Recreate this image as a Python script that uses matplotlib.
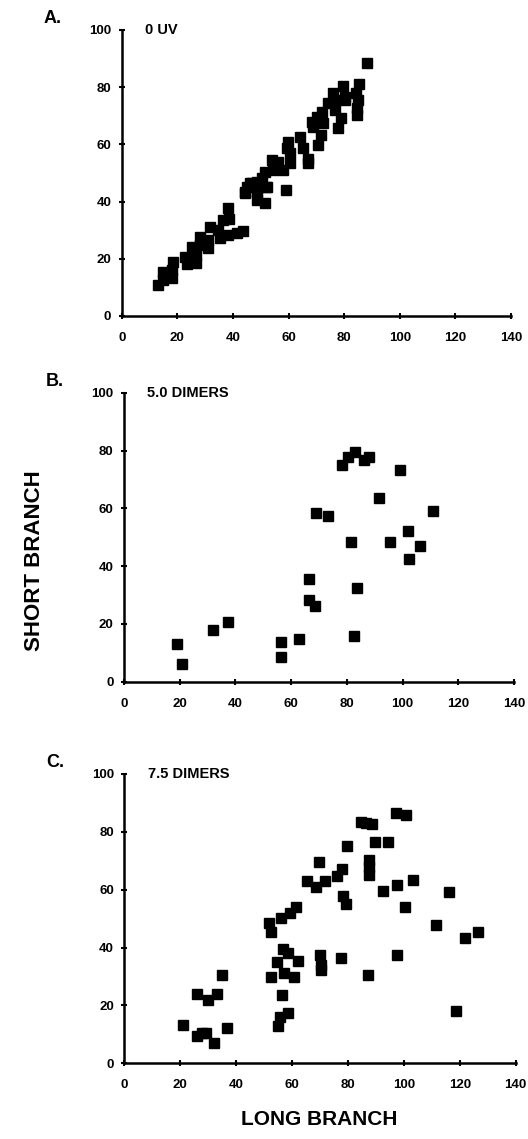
import matplotlib.pyplot as plt

plt.rcParams['font.family'] = ['Liberation Sans', 'DejaVu Sans']
plt.rcParams['font.weight'] = 'bold'

# Panel A: 0 UV
a_long = [88.1, 79.7, 85.5, 84.3, 85.1, 84.5, 84.5, 80.3, 80.3, 76.1, 76.7, 74.3, 76.7,
          78.9, 77.9, 71.9, 70.4, 68.3, 68.9, 72.5, 71.6, 70.7, 64.1, 65.3, 59.9, 59.4,
          60.5, 67.1, 67.1, 54.0, 56.3, 54.5, 58.1, 60.5, 51.5, 50.4, 48.6, 46.8, 45.0,
          48.6, 51.9, 59.1, 44.4, 51.5, 48.6, 48.6, 46.1, 44.4, 52.2, 38.3, 36.5, 38.7,
          31.8, 34.8, 38.3, 35.4, 41.4, 43.7, 28.2, 31.2, 28.2, 31.2, 25.2, 22.8, 26.7,
          26.7, 23.4, 18.6, 18.0, 15.0, 15.0, 18.0, 13.2]
a_short = [88.4, 80.4, 81.0, 77.9, 75.5, 72.6, 70.3, 76.7, 75.5, 77.9, 75.5, 74.4, 72.0,
           69.1, 65.6, 71.4, 69.7, 67.9, 66.2, 67.4, 63.3, 59.8, 62.7, 58.6, 60.9, 58.6,
           56.9, 53.4, 55.0, 54.5, 54.0, 51.0, 51.0, 53.4, 50.4, 48.1, 47.0, 46.4, 45.2,
           44.7, 45.2, 44.1, 42.9, 39.4, 40.6, 43.5, 46.4, 43.5, 45.2, 37.7, 33.6, 33.8,
           31.2, 30.1, 28.3, 27.2, 29.1, 29.7, 27.7, 26.6, 24.8, 23.7, 24.2, 20.7, 21.3,
           18.4, 18.2, 19.0, 16.1, 15.5, 12.6, 13.2, 10.8]

# Panel B: 5.0 dimers
b_long = [78.4, 80.3, 83.0, 86.3, 87.9, 99.0, 91.4, 68.8, 73.3, 110.8, 101.9, 81.4, 95.4,
          106.4, 102.4, 66.3, 83.5, 66.3, 68.4, 31.9, 37.4, 19.0, 20.9, 56.5, 56.5, 62.9, 82.6]
b_short = [75.0, 77.6, 79.4, 76.7, 77.6, 73.3, 63.4, 58.5, 57.5, 59.0, 52.3, 48.2, 48.2,
           47.0, 42.3, 35.4, 32.5, 28.3, 26.2, 17.9, 20.7, 13.2, 6.2, 13.6, 8.4, 14.8, 15.8]

# Panel C: 7.5 dimers
c_long = [84.5, 86.5, 88.5, 97.3, 100.6, 79.6, 89.6, 94.5, 69.5, 87.6, 87.6, 87.6, 77.7,
          76.1, 65.4, 71.7, 68.5, 103.1, 97.6, 92.6, 116.1, 78.1, 79.2, 100.5, 61.5, 59.4,
          56.0, 51.6, 52.6, 111.6, 121.8, 126.5, 56.6, 58.6, 69.9, 77.4, 97.4, 70.4, 70.4,
          54.5, 62.0, 57.0, 52.6, 60.8, 87.0, 35.0, 26.1, 33.0, 29.9, 56.5, 118.8, 58.6,
          55.8, 55.0, 20.9, 36.8, 26.1, 27.8, 29.4, 32.0]
c_short = [83.5, 83.2, 82.8, 86.4, 85.8, 75.0, 76.6, 76.6, 69.6, 70.3, 68.0, 65.1, 67.1,
           64.6, 62.9, 62.9, 60.8, 63.5, 61.7, 59.7, 59.1, 57.8, 55.1, 54.1, 54.1, 52.1,
           50.1, 48.4, 45.4, 47.7, 43.4, 45.5, 39.5, 38.0, 37.5, 36.5, 37.4, 34.0, 32.3,
           34.9, 35.4, 31.1, 29.8, 29.9, 30.5, 30.4, 24.0, 24.0, 22.0, 23.7, 17.9, 17.4,
           16.1, 13.0, 13.2, 12.1, 9.4, 10.6, 10.6, 7.1]

x_ticks = [0, 20, 40, 60, 80, 100, 120, 140]
y_ticks = [0, 20, 40, 60, 80, 100]

panels = [
    ('A.', '0 UV', a_long, a_short, [0.2305, 0.7226, 0.7373, 0.2511]),
    ('B.', '5.0 DIMERS', b_long, b_short, [0.2348, 0.4015, 0.7386, 0.2537]),
    ('C.', '7.5 DIMERS', c_long, c_short, [0.2354, 0.0665, 0.7413, 0.2540]),
]

fig = plt.figure(figsize=(5.28, 11.39), dpi=100)

for letter, title, xs, ys, rect in panels:
    ax = fig.add_axes(rect)
    ax.plot(xs, ys, 's', color='black', markersize=6.5, clip_on=False)
    ax.set_xlim(0, 140)
    ax.set_ylim(0, 100)
    ax.set_xticks(x_ticks)
    ax.set_yticks(y_ticks)
    for s in ['top', 'right']:
        ax.spines[s].set_visible(False)
    for s in ['left', 'bottom']:
        ax.spines[s].set_linewidth(1.8)
    ax.tick_params(direction='inout', length=5, width=1.5, labelsize=9.5)
    ax.tick_params(axis='x', pad=9)
    ax.tick_params(axis='y', pad=5)
    for lab in ax.get_xticklabels() + ax.get_yticklabels():
        lab.set_fontweight('bold')
    ax.text(0.06, 1.0, title, transform=ax.transAxes, fontsize=10.5,
            fontweight='bold', va='center', ha='left')
    ax.text(-0.2, 1.04, letter, transform=ax.transAxes, fontsize=13,
            fontweight='bold', va='center', ha='left')

fig.text(0.066, 0.508, 'SHORT BRANCH', rotation=90, fontsize=16,
         fontweight='bold', ha='center', va='center')
fig.text(0.605, 0.017, 'LONG BRANCH', fontsize=15,
         fontweight='bold', ha='center', va='center')

fig.savefig('out.png', dpi=100)
